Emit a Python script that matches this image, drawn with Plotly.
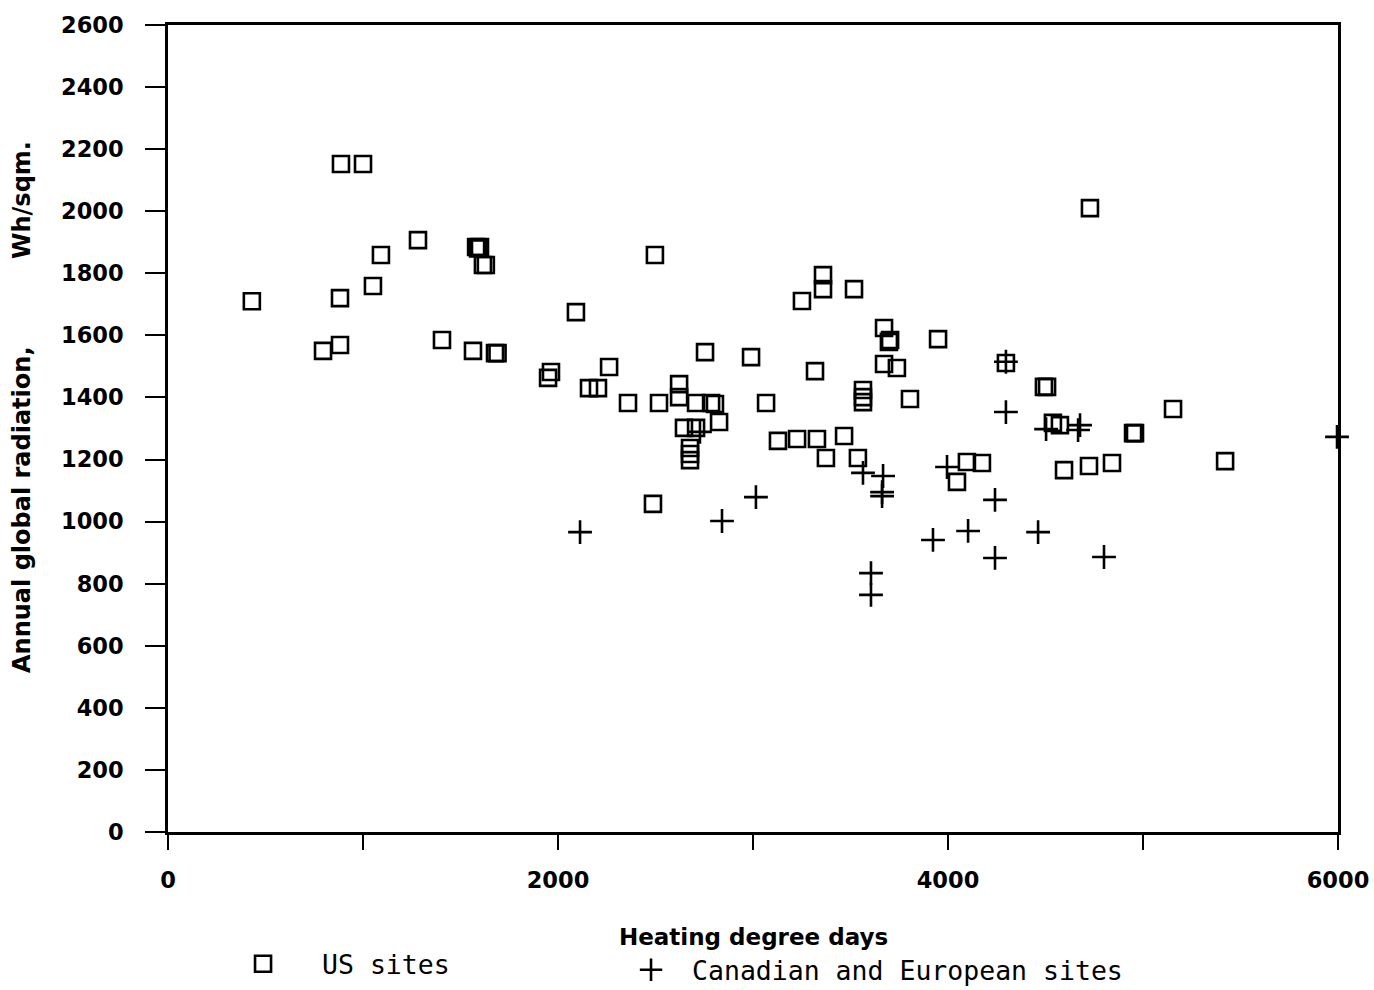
import plotly.graph_objects as go

# ---- data ----
us_hdd = [430, 795, 882, 882, 887, 1000, 1051, 1092, 1282, 1405, 1564,
          1580, 1600, 1590, 1615, 1630, 1677, 1690, 1949, 1964, 2092,
          2159, 2205, 2262, 2359, 2497, 2487, 2518, 2621, 2621, 2646,
          2708, 2677, 2677, 2677, 2708, 2754, 2785, 2805, 2826, 2990,
          3067, 3128, 3226, 3251, 3318, 3328, 3359, 3359, 3374, 3467,
          3518, 3538, 3564, 3564, 3564, 3672, 3703, 3697, 3672, 3738,
          3805, 3949, 4046, 4097, 4174, 4297, 4492, 4508, 4538, 4574,
          4595, 4723, 4728, 4841, 4949, 4959, 5154, 5421]
us_rad = [1710, 1550, 1569, 1720, 2152, 2152, 1759, 1859, 1907, 1585, 1550,
          1885, 1885, 1880, 1827, 1827, 1543, 1543, 1463, 1482, 1675,
          1430, 1430, 1498, 1382, 1859, 1057, 1382, 1443, 1401, 1302,
          1302, 1237, 1218, 1198, 1382, 1546, 1382, 1379, 1321, 1530,
          1382, 1260, 1266, 1711, 1485, 1266, 1794, 1749, 1205, 1276,
          1749, 1205, 1424, 1401, 1385, 1624, 1585, 1579, 1508, 1495,
          1395, 1588, 1128, 1192, 1189, 1511, 1434, 1434, 1318, 1311,
          1166, 1179, 2010, 1189, 1285, 1285, 1363, 1195]

ce_hdd = [2113, 2728, 2841, 3015, 3564, 3667, 3662, 3662, 3605, 3605,
          3923, 3995, 4103, 4241, 4241, 4297, 4297, 4462, 4503, 4667,
          4677, 4800, 5995]
ce_rad = [966, 1289, 1002, 1079, 1157, 1147, 1095, 1082, 834, 764,
          941, 1176, 970, 1070, 883, 1353, 1515, 966, 1298, 1295,
          1311, 886, 1273]

x_ticks = [0, 1000, 2000, 3000, 4000, 5000, 6000]
x_ticktext = ["0", "", "2000", "", "4000", "", "6000"]
y_ticks = list(range(0, 2601, 200))

fig = go.Figure()
fig.add_trace(go.Scatter(
    x=us_hdd, y=us_rad, mode="markers", name="US sites", legend="legend",
    marker=dict(symbol="square-open", size=16, color="black",
                line=dict(width=2.6, color="black")),
    cliponaxis=False))
fig.add_trace(go.Scatter(
    x=ce_hdd, y=ce_rad, mode="markers", name="Canadian and European sites",
    legend="legend2",
    marker=dict(symbol="cross-thin-open", size=17, color="black",
                line=dict(width=2.6, color="black")),
    cliponaxis=False))

tick_font = dict(family="DejaVu Sans", size=22.5, color="black", weight="bold")
title_font = dict(family="DejaVu Sans", size=23, color="black", weight="bold")
legend_font = dict(family="DejaVu Sans Mono", size=26.5, color="black")

fig.update_layout(
    width=1374, height=990,
    margin=dict(l=168, r=36, t=25, b=158, autoexpand=False),
    paper_bgcolor="white", plot_bgcolor="white",
    showlegend=True,
    legend=dict(orientation="h", x=0.0308, y=-0.1636, xanchor="left",
                yanchor="middle", font=legend_font, itemwidth=108,
                bgcolor="rgba(0,0,0,0)", borderwidth=0),
    legend2=dict(orientation="h", x=0.3778, y=-0.1710, xanchor="left",
                 yanchor="middle", font=legend_font, itemwidth=72,
                 bgcolor="rgba(0,0,0,0)", borderwidth=0),
    xaxis=dict(range=[0, 6000], tickvals=x_ticks, ticktext=x_ticktext,
               ticks="outside", ticklen=15, tickwidth=2, tickcolor="black",
               showline=True, linewidth=2.6, linecolor="black", mirror=True,
               showgrid=False, zeroline=False, tickfont=tick_font,
               ticklabelstandoff=11, automargin=False),
    yaxis=dict(range=[0, 2600], tickvals=y_ticks,
               ticks="outside", ticklen=20, tickwidth=2, tickcolor="black",
               showline=True, linewidth=2.6, linecolor="black", mirror=True,
               showgrid=False, zeroline=False, tickfont=tick_font,
               ticklabelstandoff=17, automargin=False),
    annotations=[
        dict(text="Heating degree days", xref="paper", yref="paper",
             x=0.5, y=-0.1301, xanchor="center", yanchor="middle",
             showarrow=False, font=title_font),
        dict(text="Annual global radiation,", xref="paper", yref="paper",
             x=-0.1248, y=(832 - 510) / 807,
             xanchor="center", yanchor="middle", textangle=-90,
             showarrow=False, font=dict(title_font, size=24)),
        dict(text="Wh/sqm.", xref="paper", yref="paper",
             x=-0.1248, y=(832 - 200) / 807,
             xanchor="center", yanchor="middle", textangle=-90,
             showarrow=False, font=dict(title_font, size=24)),
    ],
)

# remove the page's default body margin so the figure fills the window exactly
fig.write_html(
    "out.html",
    config={"displayModeBar": False},
    post_script="document.body.style.margin='0';"
                "document.body.style.overflow='hidden';")
